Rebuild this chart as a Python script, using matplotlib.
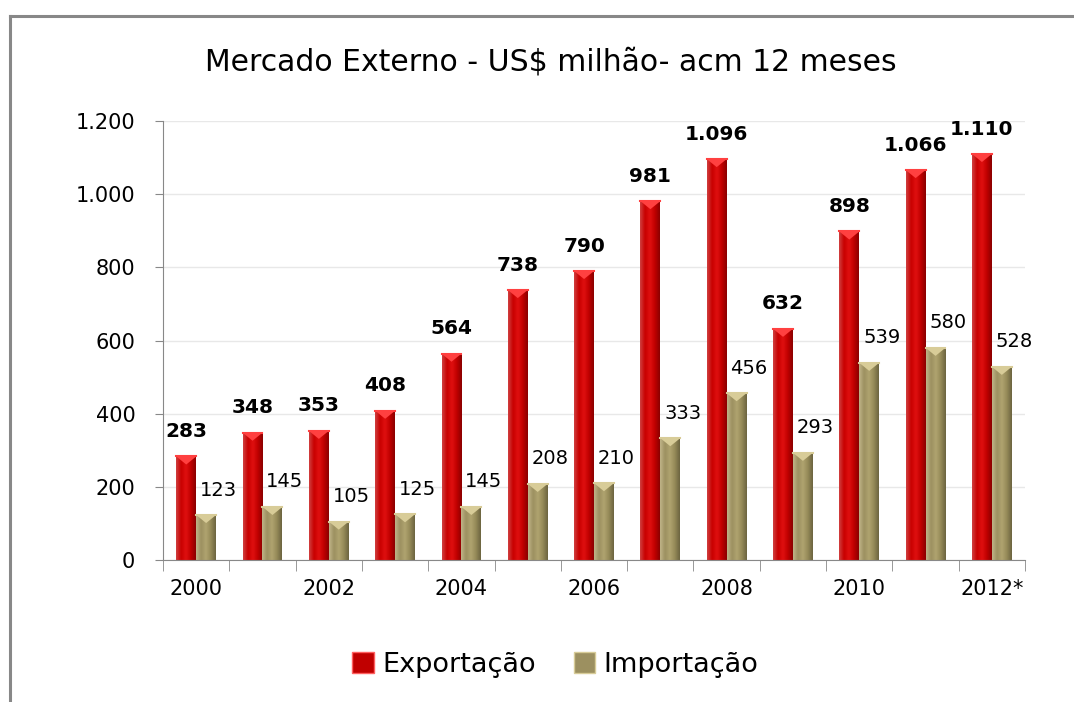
import numpy as np
import matplotlib
matplotlib.use("Agg")
from matplotlib import pyplot as plt
from matplotlib.colors import LinearSegmentedColormap
from matplotlib.patches import Patch
from matplotlib.lines import Line2D
from matplotlib.ticker import FuncFormatter

years = ['2000', '2001', '2002', '2003', '2004', '2005', '2006',
         '2007', '2008', '2009', '2010', '2011', '2012*']
exportacao = [283, 348, 353, 408, 564, 738, 790, 981, 1096, 632, 898, 1066, 1110]
importacao = [123, 145, 105, 125, 145, 208, 210, 333, 456, 293, 539, 580, 528]

red_cmap = LinearSegmentedColormap.from_list(
    'red3d', ['#d04040', '#c80000', '#e01010', '#c00000', '#8a0000'])
gold_cmap = LinearSegmentedColormap.from_list(
    'gold3d', ['#c0b488', '#9c9060', '#b0a470', '#958a58', '#6c6440'])


def shade_bars(ax, bars, cmap, top_color):
    grad = np.linspace(0, 1, 64).reshape(1, -1)
    for p in bars:
        x, w, h = p.get_x(), p.get_width(), p.get_height()
        im = ax.imshow(grad, cmap=cmap, extent=(x, x + w, 0, h),
                       aspect='auto', zorder=3, interpolation='bicubic')
        im.set_clip_path(p)
        # little bevel at the top of the bar
        ax.fill([x, x + w, x + w / 2], [h, h, h - 22], color=top_color,
                zorder=4, lw=0)
        ax.plot([x, x + w], [h, h], color=top_color, lw=1.5, zorder=4)


fig = plt.figure(figsize=(10.74, 7.02), dpi=100)
ax = fig.add_axes([0.1518, 0.2023, 0.8026, 0.6253])

x = np.arange(len(years))
w = 0.3
b1 = ax.bar(x - w / 2, exportacao, w, color='#c00000', edgecolor='none', zorder=2)
b2 = ax.bar(x + w / 2, importacao, w, color='#9c9060', edgecolor='none', zorder=2)
shade_bars(ax, b1, red_cmap, '#ff4040')
shade_bars(ax, b2, gold_cmap, '#d8cc98')

for xi, v in zip(x, exportacao):
    ax.annotate(f'{v:,}'.replace(',', '.'), (xi - w / 2, v), xytext=(0, 14),
                textcoords='offset points', ha='center', va='baseline',
                fontsize=14.5, fontweight='bold', zorder=5)
for xi, v in zip(x, importacao):
    ax.annotate(str(v), (xi + w / 2, v), xytext=(9, 14),
                textcoords='offset points', ha='center', va='baseline',
                fontsize=14, zorder=5)

ax.set_xlim(-0.5, len(years) - 0.5)
ax.set_ylim(0, 1200)
ax.set_yticks(range(0, 1201, 200))
ax.yaxis.set_major_formatter(FuncFormatter(lambda v, p: f'{int(v):,}'.replace(',', '.')))
ax.set_xticks(x[::2])
ax.set_xticklabels(years[::2])
ax.set_xticks(np.arange(-0.5, len(years), 1), minor=True)
ax.tick_params(axis='x', which='major', length=0, pad=14, labelsize=15)
ax.tick_params(axis='x', which='minor', length=8, color='#888888', direction='out')
ax.tick_params(axis='y', length=6, color='#888888', pad=14, labelsize=15)
ax.grid(axis='y', color='#e8e8e8', lw=1, zorder=0)
ax.set_axisbelow(True)
for s in ['top', 'right']:
    ax.spines[s].set_visible(False)
for s in ['left', 'bottom']:
    ax.spines[s].set_color('#888888')
    ax.spines[s].set_zorder(6)

fig.text(0.513, 0.912, 'Mercado Externo - US$ milhão- acm 12 meses',
         ha='center', va='center', fontsize=21.5)

handles = [Patch(facecolor='#c00000', edgecolor='#ff6060', lw=1),
           Patch(facecolor='#9c9060', edgecolor='#d8cc98', lw=1)]
fig.legend(handles, ['Exportação', 'Importação'], loc='center',
           bbox_to_anchor=(0.517, 0.053), ncol=2, frameon=False,
           fontsize=19.5, handlelength=0.8, handleheight=0.8,
           handletextpad=0.3, columnspacing=1.4)

# outer frame (top and left only)
fig.add_artist(Line2D([0.0093, 1.0], [0.977, 0.977], color='#888888', lw=2.2))
fig.add_artist(Line2D([0.0093, 0.0093], [0.0, 0.977], color='#888888', lw=2.2))

fig.savefig('out.png', dpi=100)
